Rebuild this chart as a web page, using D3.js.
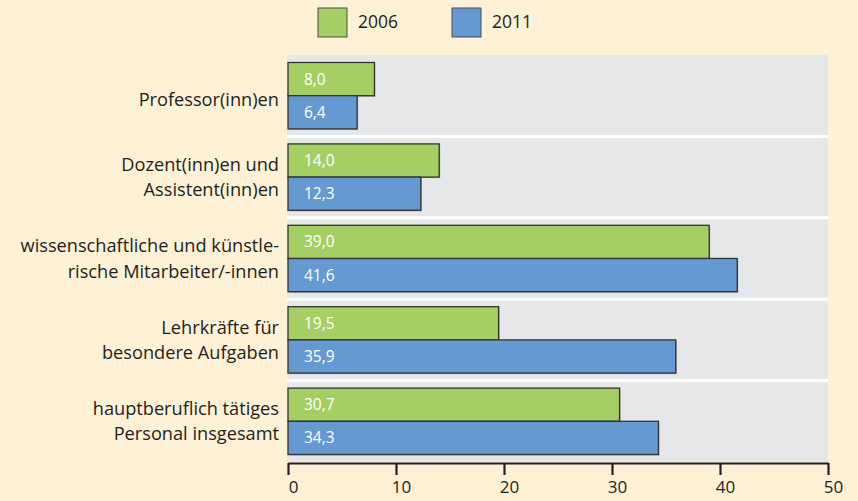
<!DOCTYPE html>
<html>
<head>
<meta charset="utf-8">
<script src="https://cdn.jsdelivr.net/npm/d3@7"></script>
<style>
  body { margin: 0; background: #fef1d6; }
  svg { display: block; font-family: "Open Sans", "Noto Sans", sans-serif; }
</style>
</head>
<body>
<div id="chart"></div>
<script>
const categories = [
  ['Professor(inn)en'],
  ['Dozent(inn)en und', 'Assistent(inn)en'],
  ['wissenschaftliche und künstle-', 'rische Mitarbeiter/-innen'],
  ['Lehrkräfte für', 'besondere Aufgaben'],
  ['hauptberuflich tätiges', 'Personal insgesamt']
];
const years = ['2006', '2011'];
const values2006 = [8.0, 14.0, 39.0, 19.5, 30.7];
const values2011 = [6.4, 12.3, 41.6, 35.9, 34.3];
const xTicks = [0, 10, 20, 30, 40, 50];

const colors = {'2006': '#a5cf63', '2011': '#6499d1'};

const svgWidth = 858;
const svgHeight = 501;
const margin = {top: 55, left: 288};
const width = 540;
const height = 407;

const svg = d3.select('#chart')
                .append('svg')
                .attr('width', svgWidth)
                .attr('height', svgHeight);

svg.append('rect')
    .attr('width', svgWidth).attr('height', svgHeight)
    .attr('fill', '#fef1d6');

const chartGroup = svg.append('g')
    .attr('transform', `translate(${margin.left}, ${margin.top})`);

const x = d3.scaleLinear().domain([0, 50]).range([0, width]);
const y = d3.scaleBand().domain(d3.range(categories.length)).range([0, height]);
const inner = d3.scaleBand().domain(years).range([7.5, y.bandwidth() - 7.5]);

const data = categories.map((c, i) => ({
  idx: i, label: c,
  values: [{year: '2006', v: values2006[i]}, {year: '2011', v: values2011[i]}]
}));

// grey plot background
chartGroup.append('rect')
    .attr('x', -1).attr('y', 0)
    .attr('width', width + 1).attr('height', height)
    .attr('fill', '#e6e7e9');

// white separators between categories
chartGroup.selectAll('line.sep')
    .data(d3.range(1, categories.length))
    .join('line')
    .attr('class', 'sep')
    .attr('x1', -1).attr('x2', width)
    .attr('y1', d => y(d)).attr('y2', d => y(d))
    .attr('stroke', '#ffffff').attr('stroke-width', 3);

const groups = chartGroup.selectAll('g.cat')
    .data(data)
    .join('g')
    .attr('class', 'cat')
    .attr('transform', d => `translate(0, ${y(d.idx)})`);

// shadow
groups.selectAll('rect.shadow')
    .data(d => d.values)
    .join('rect')
    .attr('class', 'shadow')
    .attr('x', 1).attr('y', d => inner(d.year) + 1)
    .attr('width', d => x(d.v)).attr('height', inner.bandwidth())
    .attr('fill', '#a9a9ab');

groups.selectAll('rect.bar')
    .data(d => d.values)
    .join('rect')
    .attr('class', 'bar')
    .attr('x', 0).attr('y', d => inner(d.year))
    .attr('width', d => x(d.v)).attr('height', inner.bandwidth())
    .attr('fill', d => colors[d.year])
    .attr('stroke', '#333333')
    .attr('stroke-width', 1.3);

groups.selectAll('text.val')
    .data(d => d.values)
    .join('text')
    .attr('class', 'val')
    .attr('x', 16)
    .attr('y', d => inner(d.year) + inner.bandwidth() / 2)
    .attr('dy', '0.35em')
    .attr('fill', '#ffffff')
    .style('font-size', '15.5px')
    .text(d => d3.format('.1f')(d.v).replace('.', ','));

// category labels
groups.each(function(d) {
  const g = d3.select(this);
  const n = d.label.length;
  const mid = y.bandwidth() / 2 + (n === 1 ? 4 : 0);
  d.label.forEach((line, j) => {
    g.append('text')
        .attr('x', -9)
        .attr('y', mid + (j - (n - 1) / 2) * 25.5)
        .attr('dy', '0.35em')
        .attr('text-anchor', 'end')
        .attr('fill', '#231f20')
        .style('font-size', '18.2px')
        .text(line);
  });
});

// x axis
const axisY = height + 1;
const xAxis = chartGroup.append('g')
    .attr('transform', `translate(0, ${axisY})`)
    .call(d3.axisBottom(x).tickValues(xTicks).tickSize(12).tickSizeOuter(0).tickPadding(6));
xAxis.select('.domain').attr('stroke', '#231f20').attr('stroke-width', 2.2);
xAxis.selectAll('.tick line').attr('stroke', '#231f20').attr('stroke-width', 2.2);
xAxis.selectAll('.tick text')
    .attr('x', 5)
    .attr('fill', '#231f20')
    .style('font-size', '17px')
    .style('font-family', '"Open Sans", "Noto Sans", sans-serif');

// legend
const legend = svg.append('g');
const legendItems = legend.selectAll('g')
    .data(years)
    .join('g')
    .attr('transform', (d, i) => `translate(${318 + i * 134}, 8)`);
legendItems.append('rect')
    .attr('width', 29).attr('height', 29)
    .attr('fill', d => colors[d])
    .attr('stroke', '#4d4d4d').attr('stroke-width', 1);
legendItems.append('text')
    .attr('x', 40).attr('y', 14).attr('dy', '0.35em')
    .attr('fill', '#231f20')
    .style('font-size', '17.5px')
    .text(d => d);
</script>
</body>
</html>
